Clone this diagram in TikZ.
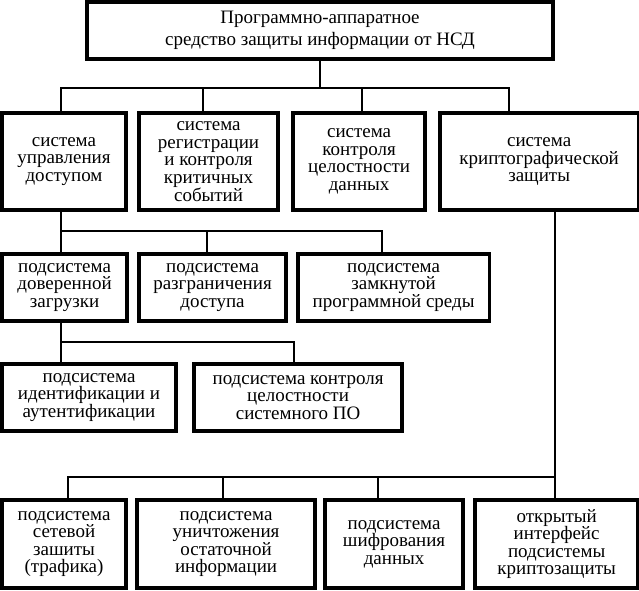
\documentclass[tikz,border=0pt]{standalone}
\usepackage{fontspec}
\setmainfont{Liberation Serif}
\usetikzlibrary{positioning,calc}
\lineskiplimit=-100pt

\begin{document}
\begin{tikzpicture}[x=0.025cm, y=-0.025cm,
  box/.style={draw, line width=2.3pt, outer sep=0pt, inner sep=1pt, align=center, font=\fontsize{13.5}{12.5}\selectfont},
  lvlone/.style={box, minimum height=2.425cm},
  lvltwo/.style={box, minimum height=1.675cm},
  lvlthree/.style={box, minimum height=1.675cm, line width=2.6pt},
  lvlfour/.style={box, minimum height=2.2cm, line width=2.6pt},
  link/.style={line width=1.4pt}]
\useasboundingbox (0,0) rectangle (639,591);
\node[box, minimum width=11.65cm, minimum height=1.425cm, font=\fontsize{13.5}{15.5}\selectfont] (top) at (320,30.5) {Программно-аппаратное\\средство защиты информации от НСД};
% systems
\node[lvlone, minimum width=3.1cm, anchor=north west] (sysA) at (2,113) {система\\управления\\доступом};
\node[lvlone, minimum width=3.475cm, right=0.325cm of sysA] (sysB) {система\\регистрации\\и контроля\\критичных\\событий};
\node[lvlone, minimum width=3.3cm, right=0.375cm of sysB] (sysC) {система\\контроля\\целостности\\данных};
\node[lvlone, minimum width=4.95cm, right=0.375cm of sysC] (sysD) {система\\криптографической\\защиты};
% access subsystems
\node[lvltwo, minimum width=3.125cm, anchor=north west] (subBoot) at (2,254) {подсистема\\доверенной\\загрузки};
\node[lvltwo, minimum width=3.675cm, right=0.3cm of subBoot] (subAccess) {подсистема\\разграничения\\доступа};
\node[lvltwo, minimum width=4.775cm, right=0.3cm of subAccess] (subEnv) {подсистема\\замкнутой\\программной среды};
\node[lvlthree, minimum width=4.35cm, anchor=north west] (subIdent) at (2,364) {подсистема\\идентификации и\\аутентификации};
\node[lvlthree, minimum width=5.2cm, right=0.45cm of subIdent] (subIntegr) {подсистема контроля\\целостности\\системного ПО};
% crypto subsystems
\node[lvlfour, minimum width=3.1cm, anchor=north west] (netProt) at (2,500) {подсистема\\сетевой\\зашиты\\(трафика)};
\node[lvlfour, minimum width=4.45cm, right=0.275cm of netProt] (erase) {подсистема\\уничтожения\\остаточной\\информации};
\node[lvlfour, minimum width=3.45cm, right=0.25cm of erase] (encrypt) {подсистема\\шифрования\\данных};
\node[lvlfour, minimum width=4.075cm, right=0.3cm of encrypt] (iface) {открытый\\интерфейс\\подсистемы\\криптозащиты};

\draw[link] (top.south) -- ++(0,29) coordinate (hubA);
\draw[link] (hubA) -| ($(sysA.north)+(-3,0)$); \draw[link] (hubA) -| ($(sysB.north)+(-5.5,0)$);
\draw[link] (hubA) -| ($(sysC.north)+(3,0)$); \draw[link] (hubA) -| ($(sysD.north)+(-30,0)$);
\draw[link] ($(sysA.south)+(-3,0)$) -- ++(0,21) coordinate (hubB);
\draw[link] (hubB) -| ($(subBoot.north)+(-3.5,0)$); \draw[link] (hubB) -| ($(subAccess.north)+(-5.5,0)$);
\draw[link] (hubB) -| ($(subEnv.north)+(-11.5,0)$);
\draw[link] ($(subBoot.south)+(-3.5,0)$) -- ++(0,21) coordinate (hubC);
\draw[link] (hubC) -| ($(subIdent.north)+(-28,0)$); \draw[link] (hubC) -| ($(subIntegr.north)+(-4,0)$);
\draw[link] ($(sysD.south)+(16,0)$) -- ++(0,267) coordinate (hubD);
\draw[link] (hubD) -| ($(netProt.north)+(4,0)$); \draw[link] (hubD) -| ($(erase.north)+(-3,0)$);
\draw[link] (hubD) -| ($(encrypt.north)+(-16,0)$); \draw[link] (hubD) -| ($(iface.north)+(-1.5,0)$);
\end{tikzpicture}
\end{document}
